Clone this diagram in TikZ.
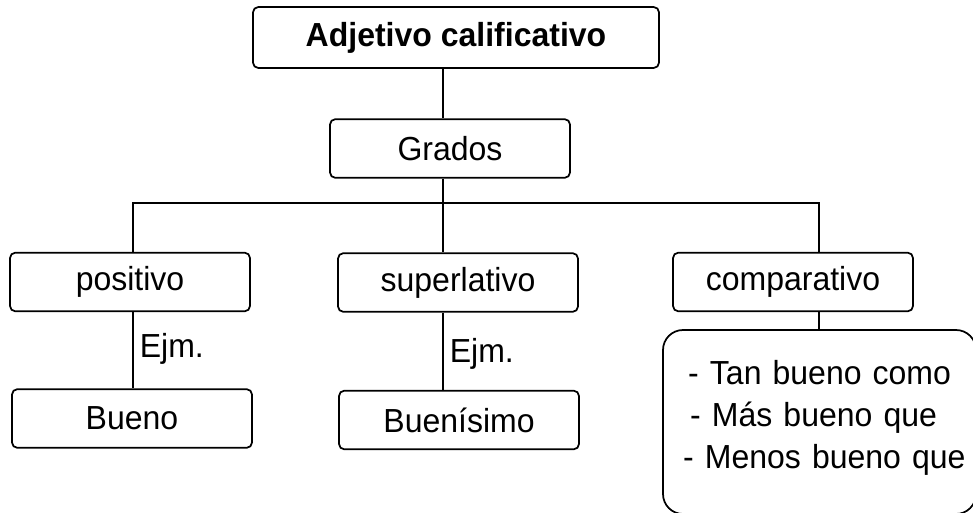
\documentclass[tikz,border=0pt]{standalone}
\usepackage{fontspec}
\setmainfont{Liberation Sans}[FakeStretch=0.96]
\tikzset{
  box/.style={draw, line width=1.3pt, rounded corners=4pt, minimum width=180pt, minimum height=44pt, inner sep=0pt},
  listbox/.style={draw, line width=1.3pt, rounded corners=15pt, minimum width=234.75pt, minimum height=138pt, text width=197pt, inner xsep=18.75pt, align=left},
  link/.style={line width=1.3pt}
}
\begin{document}
\begin{tikzpicture}[x=0.75pt,y=-0.75pt,font=\fontsize{25}{31.5}\selectfont]
\useasboundingbox (0,0) rectangle (973,513);
\node[box, minimum width=304.5pt, minimum height=45.75pt, font=\fontsize{25}{31.5}\selectfont\bfseries] (adjetivo) at (456,37.5) {Adjetivo calificativo};
\node[box] (grados) at (450,148.5) {Grados};
\node[box] (positivo) at (130,282) {positivo};
\node[box] (superlativo) at (458,282.5) {superlativo};
\node[box] (comparativo) at (793,282) {comparativo};
\node[box] (bueno) at (132,418.5) {Bueno};
\node[box] (buenisimo) at (459,420) {Buenísimo};
\node[listbox] (formas) at (819.5,422) {\mbox{- Tan bueno como}\\\mbox{\hspace*{1.5pt}- Más bueno que}\\\mbox{\hspace*{-3.75pt}- Menos bueno que}\rule[-12pt]{0pt}{0pt}};
\coordinate (tronco) at (443,203);
\coordinate (ramaI) at (133,203);
\coordinate (ramaD) at (819,203);
\draw[link] (adjetivo.south -| tronco) -- (grados.north -| tronco);
\draw[link] (grados.south -| tronco) -- (superlativo.north -| tronco);
\draw[link] (positivo.north -| ramaI) |- (ramaD) -- (comparativo.north -| ramaD);
\draw[link] (positivo.south -| ramaI) -- node[right, inner sep=4.5pt, yshift=1pt] {Ejm.} (bueno.north -| ramaI);
\draw[link] (superlativo.south -| tronco) -- node[right, inner sep=4.5pt, yshift=-2pt] {Ejm.} (buenisimo.north -| tronco);
\draw[link] (comparativo.south -| ramaD) -- (formas.north -| ramaD);
\end{tikzpicture}
\end{document}
